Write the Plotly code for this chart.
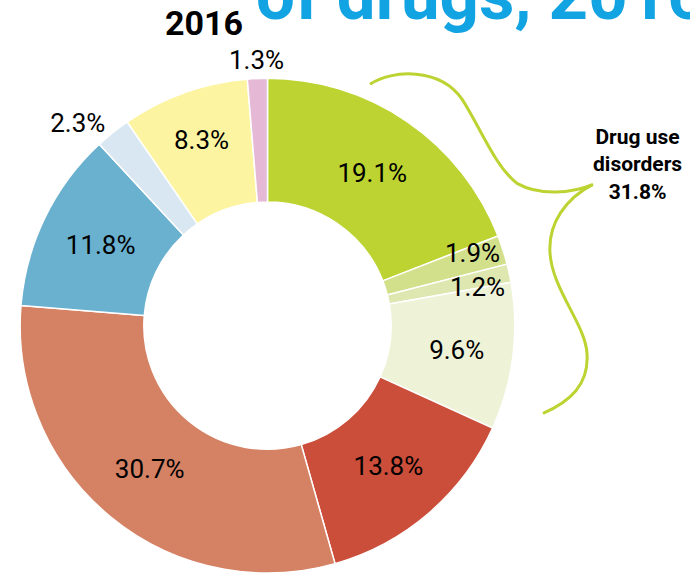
import math
import plotly.graph_objects as go

# ---- data ----
values = [19.1, 1.9, 1.2, 9.6, 13.8, 30.7, 11.8, 2.3, 8.3, 1.3]
colors = ["#BDD331", "#D3E08B", "#DEE7AF", "#EEF3D8", "#CB4E3A",
          "#D58264", "#6AB0CF", "#D8E7F2", "#FCF4A0", "#E5B8D6"]
text_pos = ["inside", "none", "none", "inside", "inside",
            "inside", "inside", "outside", "inside", "none"]
title_text = "of drugs, 2016"
year_text = "2016"
brace_label = "Drug use<br>disorders<br>31.8%"

W, H = 690, 578
cx, cy, R = 267.5, 328.5, 249.5

fig = go.Figure()

fig.add_trace(go.Pie(
    values=values,
    marker=dict(colors=colors, line=dict(color="white", width=1.5)),
    sort=False,
    direction="clockwise",
    rotation=0,
    hole=0.5,
    texttemplate="%{value:.1f}%",
    textposition=text_pos,
    insidetextorientation="horizontal",
    textfont=dict(family="Roboto", size=26, color="black"),
    showlegend=False,
    hoverinfo="skip",
    domain=dict(x=[(cx - R) / W, (cx + R) / W],
                y=[max(0.0, 1 - (cy + R) / H), 1 - (cy - R) / H]),
))

# hidden pixel-space axes for decorations
fig.update_layout(
    xaxis=dict(range=[0, W], visible=False, fixedrange=True),
    yaxis=dict(range=[H, 0], visible=False, fixedrange=True),
)

# labels for the thin slices, placed along their mid-angles
label_style = {1: (215, 7), 2: (215, -7), 9: (268, 0)}  # index: (radius, yshift)
total = sum(values)
cum = 0.0
for i, v in enumerate(values):
    if text_pos[i] == "none":
        th = 2 * math.pi * (cum + v / 2) / total
        r, ys = label_style[i]
        fig.add_annotation(x=cx + r * math.sin(th), y=cy - r * math.cos(th),
                           xref="x", yref="y", text=f"{v:.1f}%", showarrow=False,
                           yshift=ys,
                           font=dict(family="Roboto", size=26, color="black"))
    cum += v

# brace
brace = ("M 370 85 C 392 70, 440 68, 462 100 "
         "C 480 128, 495 168, 517 185 "
         "C 540 198, 572 195, 593 186 "
         "C 566 200, 548 225, 550 255 "
         "C 552 292, 586 328, 587 357 "
         "C 589 388, 570 405, 543 417")
fig.add_shape(type="path", path=brace, xref="x", yref="y",
              line=dict(color="#BDD331", width=3))

fig.add_annotation(x=637, y=166, xref="x", yref="y",
                   text=f"<b>{brace_label}</b>",
                   showarrow=False, align="center",
                   font=dict(family="Roboto", size=21, color="black"))

# title pieces
fig.add_annotation(x=254 / W, y=1 + 5 / H, xref="paper", yref="paper",
                   xanchor="left", yanchor="middle",
                   text=f"<b>{title_text}</b>", showarrow=False,
                   font=dict(family="Roboto", size=69, color="#11A3E2"))
fig.add_annotation(x=204, y=23, xref="x", yref="y", xanchor="center", yanchor="middle",
                   text=f"<b>{year_text}</b>", showarrow=False,
                   font=dict(family="Roboto", size=34, color="black"))

fig.update_layout(
    width=W, height=H,
    margin=dict(l=0, r=0, t=0, b=0),
    paper_bgcolor="white", plot_bgcolor="white",
    uniformtext=dict(minsize=26, mode="show"),
)

fig.write_html("out.html")
